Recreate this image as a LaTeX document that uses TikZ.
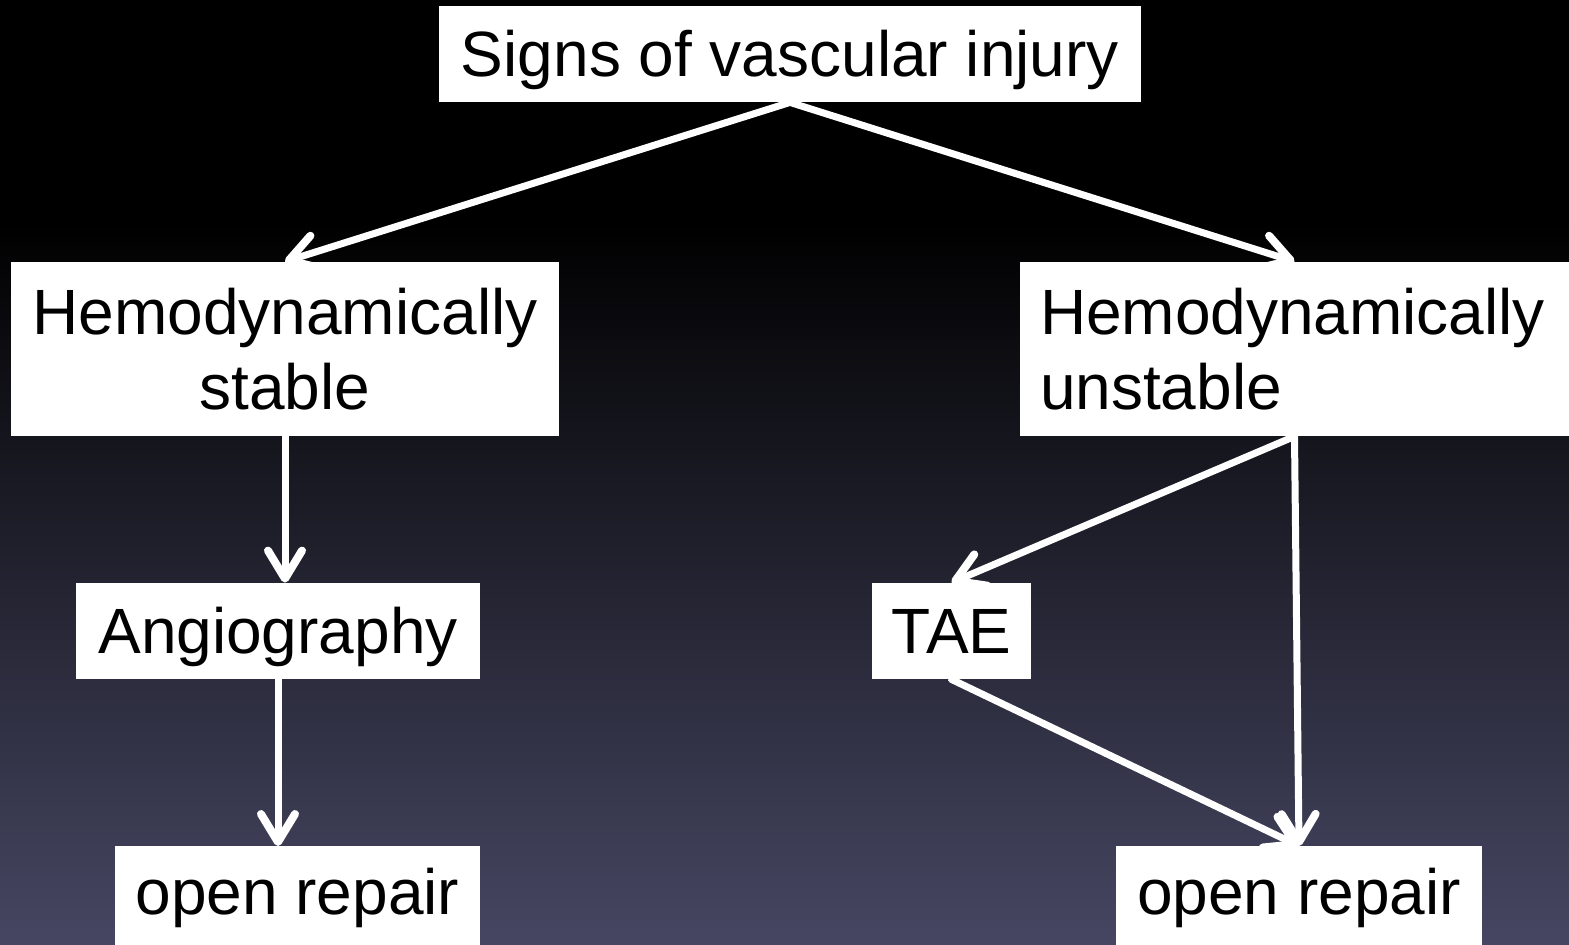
\documentclass[tikz,border=0pt]{standalone}
\usepackage{fontspec}
\setmainfont{Liberation Sans}
\usetikzlibrary{arrows.meta}
\definecolor{bgbot}{RGB}{70,70,98}
\tikzset{
  box/.style={draw=none, fill=white, inner sep=0pt, font=\fontsize{32}{37.5}\selectfont, text=black},
  onel/.style={text height=27pt, text depth=5pt},
  conn/.style={draw=white, line width=3.5pt, line cap=round,
    -{Straight Barb[length=14pt,width=17pt,line width=4pt,round]}},
}
\begin{document}
\begin{tikzpicture}[x=0.5pt,y=-0.5pt]
\useasboundingbox (0,0) rectangle (1569,944);
\fill[black] (0,0) rectangle (1569,221);
\shade[top color=black, bottom color=bgbot] (0,220) rectangle (1569,944);

\node[box, onel, minimum width=351pt, minimum height=48pt] (top) at (790,54) {Signs of vascular injury};
\node[box, minimum width=274pt, minimum height=87pt, align=center] (stable) at (285,349) {Hemodynamically\\stable};
\node[box, minimum width=274.5pt, minimum height=87pt, text width=254.5pt, align=left, inner xsep=10pt] (unstable) at (1294.5,349) {Hemodynamically\\unstable};
\node[box, onel, minimum width=202pt, minimum height=48pt] (ang) at (278,631) {Angiography};
\node[box, onel, minimum width=79.5pt, minimum height=48pt] (tae) at (951.5,631) {TAE};
\node[box, minimum width=182.5pt, minimum height=52pt, anchor=north] (orL) at (297.5,846) {open repair};
\node[box, minimum width=183pt, minimum height=52pt, anchor=north] (orR) at (1299,846) {open repair};

\draw[conn] (top.south) -- (stable.north);
\draw[conn] (top.south) -- (unstable.north);
\draw[conn] (stable.south) -- (stable.south |- ang.north);
\draw[conn] (ang.south) -- (ang.south |- orL.north);
\draw[conn] (unstable.south) -- (tae.north);
\draw[conn] (unstable.south) -- (orR.north);
\draw[conn] (tae.south) -- (orR.north);
\end{tikzpicture}
\end{document}
